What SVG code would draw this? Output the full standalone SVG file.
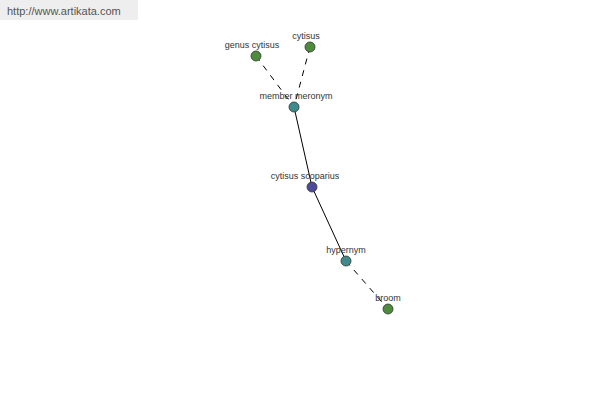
<svg xmlns="http://www.w3.org/2000/svg" width="600" height="400" viewBox="0 0 600 400">
<style>
.lbl{font-family:"Liberation Sans",Arial,sans-serif;font-size:9px;fill:#333;text-anchor:middle}
.n{stroke:#333;stroke-width:0.8}
.g{fill:#4c8c3c}
.t{fill:#3f8a8a}
.b{fill:#4a4c9a}
.e{stroke:#000;stroke-width:1;fill:none}
.d{stroke-dasharray:6,6}
</style>
<rect x="0" y="0" width="138" height="20" fill="#eeeeee"/>
<text x="7" y="15" font-family="'Liberation Sans',Arial,sans-serif" font-size="11" fill="#555">http://www.artikata.com</text>
<g id="edges">
<line class="e d" x1="256" y1="56" x2="294" y2="107"/>
<line class="e d" x1="310" y1="47" x2="294" y2="107"/>
<line class="e" x1="294" y1="107" x2="312" y2="187"/>
<line class="e" x1="312" y1="187" x2="346" y2="261"/>
<line class="e d" x1="346" y1="261" x2="388" y2="309"/>
</g>
<g id="genus-cytisus"><circle class="n g" cx="256" cy="56" r="5"/><text class="lbl" x="252" y="48">genus cytisus</text></g>
<g id="cytisus"><circle class="n g" cx="310" cy="47" r="5"/><text class="lbl" x="306" y="39">cytisus</text></g>
<g id="member-meronym"><circle class="n t" cx="294" cy="107" r="5"/><text class="lbl" x="296" y="99">member meronym</text></g>
<g id="cytisus-scoparius"><circle class="n b" cx="312" cy="187" r="5"/><text class="lbl" x="305" y="179">cytisus scoparius</text></g>
<g id="hypernym"><circle class="n t" cx="346" cy="261" r="5"/><text class="lbl" x="346" y="253">hypernym</text></g>
<g id="broom"><circle class="n g" cx="388" cy="309" r="5"/><text class="lbl" x="388" y="301">broom</text></g>
</svg>
